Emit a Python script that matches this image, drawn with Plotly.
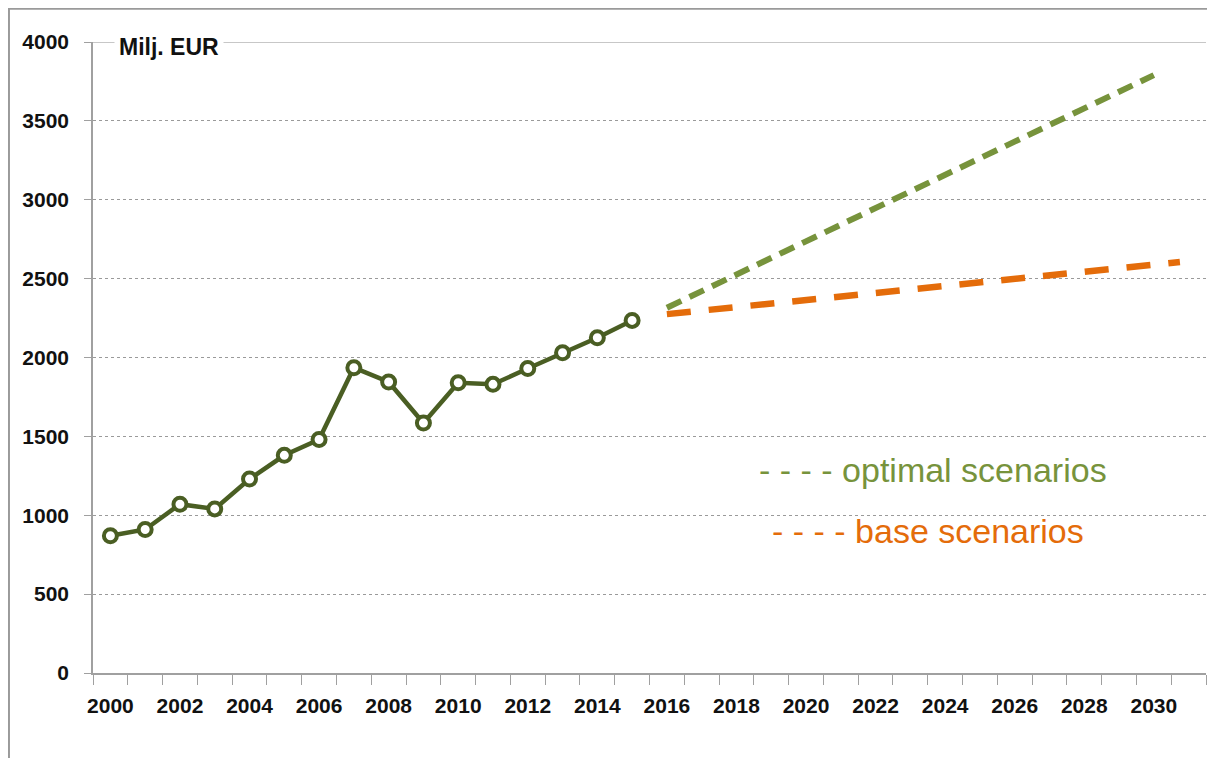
import plotly.graph_objects as go

# historical values, Milj. EUR
years = list(range(2000, 2016))
values = [870, 910, 1070, 1040, 1230, 1380, 1480, 1935, 1845, 1585,
          1840, 1830, 1930, 2030, 2125, 2235]

# scenario lines (start / end)
optimal_years = [2016, 2030]
optimal_values = [2315, 3790]
base_years = [2016, 2030.75]
base_values = [2275, 2605]

y_ticks = [0, 500, 1000, 1500, 2000, 2500, 3000, 3500, 4000]

FONT = "Liberation Sans, Arial, sans-serif"
tick_font = dict(family=FONT, size=21, color="#111111", weight="bold")

fig = go.Figure()

fig.add_trace(go.Scatter(
    x=optimal_years, y=optimal_values, mode="lines",
    line=dict(color="#77933C", width=6, dash="16px,9px"),
    hoverinfo="skip"))
fig.add_trace(go.Scatter(
    x=base_years, y=base_values, mode="lines",
    line=dict(color="#E46C0A", width=6.5, dash="24px,18px"),
    hoverinfo="skip"))
fig.add_trace(go.Scatter(
    x=years, y=values, mode="lines+markers",
    line=dict(color="#4A5E23", width=4.5),
    marker=dict(size=13, color="white", line=dict(color="#4A5E23", width=4))))

fig.update_xaxes(
    range=[1999.5, 2031.5], tick0=2000, dtick=2, ticks="",
    showgrid=False, zeroline=False,
    showline=True, linecolor="#a0a0a0", linewidth=1.5,
    tickfont=tick_font, ticklabelstandoff=13,
    minor=dict(tick0=1999.5, dtick=1, ticks="outside", ticklen=10,
               tickcolor="#a0a0a0", showgrid=False))
fig.update_yaxes(
    range=[0, 4000], tickvals=y_ticks, ticks="outside", ticklen=7,
    tickcolor="#a0a0a0", showline=True, linecolor="#a0a0a0", linewidth=1.5,
    showgrid=True, gridcolor="#9a9a9a", griddash="dot", gridwidth=1,
    zeroline=False, tickfont=tick_font, ticklabelstandoff=11)

# top border line of the plot area
fig.add_shape(type="line", xref="paper", yref="y", x0=0, x1=1, y0=4000, y1=4000,
              line=dict(color="#b5b5b5", width=1.5))

# outer frame (page body adds 8px, so frame sits at the figure edge)
fig.add_shape(type="rect", xref="paper", yref="paper",
              x0=-0.0755, x1=1.0072, y0=-0.14, y1=1.0525,
              line=dict(color="#9a9a9a", width=2), layer="below")

fig.add_annotation(
    text="<b>Milj. EUR</b>", xref="paper", yref="paper", x=0.0185, y=1,
    xanchor="left", yanchor="middle", yshift=-5, showarrow=False,
    bgcolor="white", borderpad=4,
    font=dict(family=FONT, size=23, color="#111111"))

fig.add_annotation(
    text="- - - - optimal scenarios", xref="paper", yref="paper",
    x=0.5967, y=0.3217, xanchor="left", yanchor="middle", showarrow=False,
    font=dict(family=FONT, size=34, color="#77933C"))
fig.add_annotation(
    text="- - - - base scenarios", xref="paper", yref="paper",
    x=0.6084, y=0.225, xanchor="left", yanchor="middle", showarrow=False,
    font=dict(family=FONT, size=34, color="#E46C0A"))

fig.update_layout(
    width=1207, height=750,
    margin=dict(l=84.6, r=9, t=34, b=85),
    plot_bgcolor="white", paper_bgcolor="white",
    showlegend=False,
    font=dict(family=FONT))

fig.write_html("out.html")
